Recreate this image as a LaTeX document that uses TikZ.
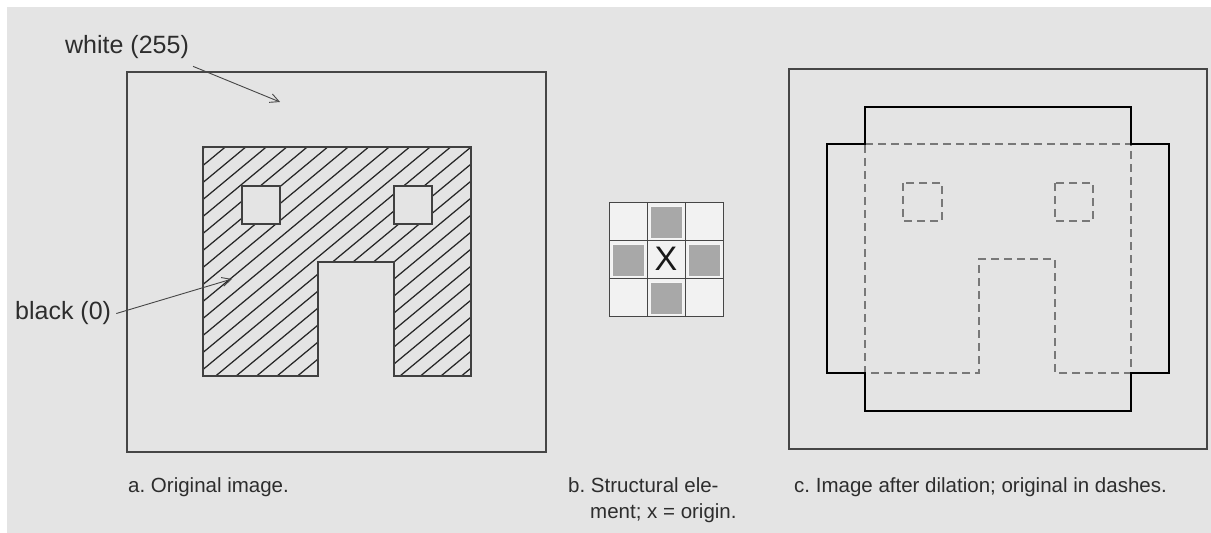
\documentclass[tikz,border=0pt]{standalone}
\usepackage{fontspec}
\setmainfont{Liberation Sans}
\usetikzlibrary{arrows.meta}
\definecolor{bg}{RGB}{228,228,228}
\definecolor{ink}{RGB}{70,70,70}
\definecolor{cellw}{RGB}{242,242,242}
\definecolor{cellg}{RGB}{168,168,168}
\definecolor{dashc}{RGB}{120,120,120}
\definecolor{txt}{RGB}{45,45,45}
\tikzset{
 frame/.style={draw=ink, line width=1.1bp},
 hatchline/.style={draw=black!85, line width=1.25bp},
 outline/.style={draw=black!75, line width=1.2bp},
 lbl/.style={inner sep=0pt, text=txt, font=\fontsize{25bp}{30bp}\selectfont, anchor=base west},
 caption/.style={inner sep=0pt, text=txt, font=\fontsize{20.5bp}{26bp}\selectfont\frenchspacing, anchor=base west},
 pointer/.style={draw=ink, line width=0.9bp, -{Straight Barb[length=9bp,width=9bp]}},
 origdash/.style={draw=dashc, line width=1.1bp, dash pattern=on 8bp off 5bp},
 dilated/.style={draw=black, line width=2bp, line join=miter},
 cell/.style={draw=ink, line width=1bp, fill=cellw},
 grayc/.style={fill=cellg, draw=white!96!black, line width=0.8bp},
}
\begin{document}
\frenchspacing
\begin{tikzpicture}[x=1bp,y=-1bp]
\fill[white] (0,0) rectangle (1211,533);
\fill[bg] (7,7) rectangle (1211,533);
\useasboundingbox (0,0) rectangle (1211,533);

% ---------- panel a ----------
\draw[frame] (127,72) rectangle (546,452);
\begin{scope}
\clip (203,147) -- (471,147) -- (471,376) -- (394,376) -- (394,262) -- (318,262) -- (318,376) -- (203,376) -- cycle;
\foreach \c in {300,317,...,800} \draw[hatchline] (150,{\c-124.5}) -- (500,{\c-415});
\end{scope}
\draw[outline] (203,147) -- (471,147) -- (471,376) -- (394,376) -- (394,262) -- (318,262) -- (318,376) -- (203,376) -- cycle;
\filldraw[fill=bg, outline] (242,186) rectangle (280,224);
\filldraw[fill=bg, outline] (394,186) rectangle (432,224);

\node[lbl] (white) at (65,54) {white (255)};
\node[lbl] (black) at (15,320) {black (0)};
\coordinate (wtip) at (280,102);
\coordinate (btip) at (232,279);
\draw[pointer] ([shift={(4,7)}]white.south east) -- (wtip);
\draw[pointer] ([xshift=5bp]black.east) -- (btip);

% ---------- panel b ----------
\foreach \i in {0,1,2} \foreach \j in {0,1,2}
  \draw[cell] ({609+38*\i},{203+38*\j}) rectangle +(38,38);
\foreach \i/\j in {1/0,0/1,2/1,1/2}
  \filldraw[grayc] ({609+38*\i+3},{203+38*\j+3}) rectangle +(32,32);
\node[inner sep=0pt, text=black!90, font=\fontsize{34bp}{34bp}\selectfont] (origin) at (666,259) {X};

% ---------- panel c ----------
\draw[frame] (789,69) rectangle (1207,449);
\draw[origdash] (865,144) -- (1131,144) -- (1131,373) -- (1055,373) -- (1055,259) -- (979,259) -- (979,373) -- (865,373) -- cycle;
\draw[origdash] (903,183) rectangle (942,221);
\draw[origdash] (1055,183) rectangle (1093,221);
\draw[dilated] (865,107) -- (1131,107) -- (1131,144) -- (1169,144) -- (1169,373) -- (1131,373) -- (1131,411) -- (865,411) -- (865,373) -- (827,373) -- (827,144) -- (865,144) -- cycle;

% ---------- captions ----------
\node[caption] (capa) at (128,492) {a. Original image.};
\node[caption] (capb1) at (568,492) {b. Structural ele-};
\node[caption] (capb2) at (590,518) {ment; x = origin.};
\node[caption] (capc) at (794,492) {c. Image after dilation; original in dashes.};
\end{tikzpicture}
\end{document}
